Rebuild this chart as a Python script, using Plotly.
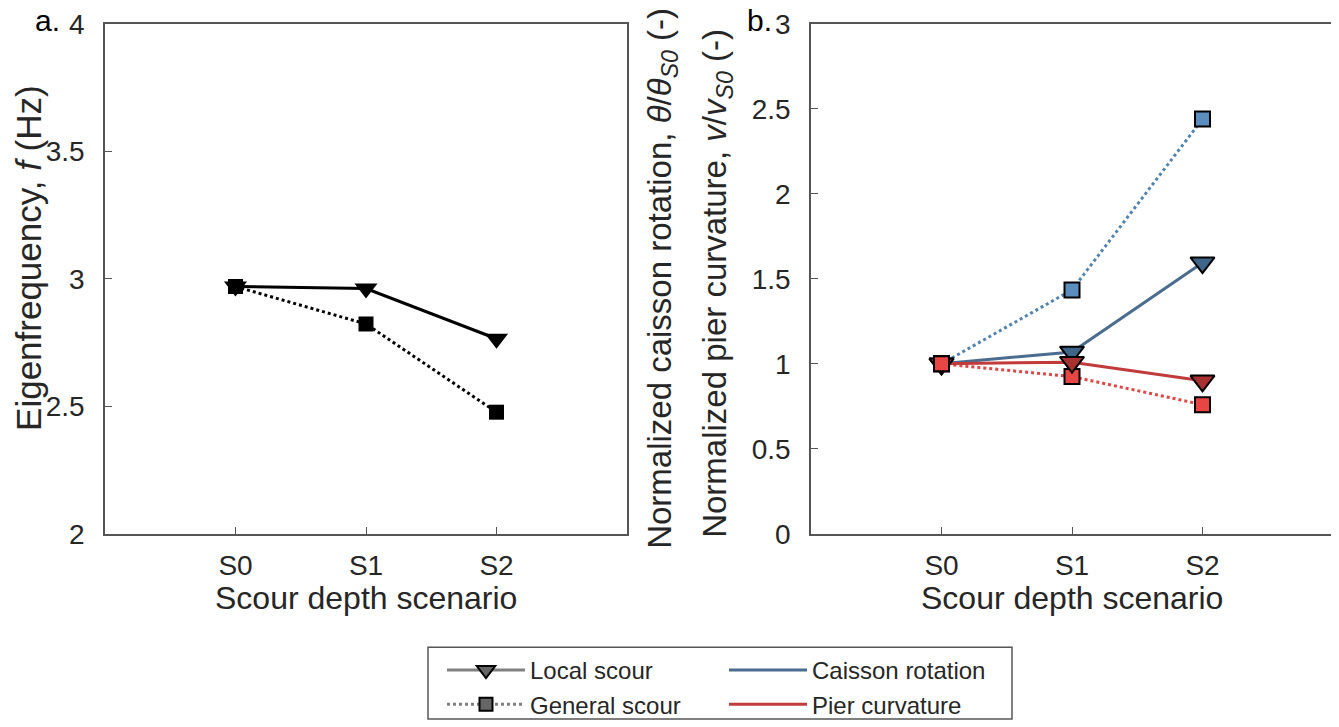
import plotly.graph_objects as go

# Page body has an 8px margin; size the figure so it fills the 1339x727 window
OFF = 8
W, H = 1339 - OFF, 727 - OFF

scenarios = ["S0", "S1", "S2"]
xpos = [0, 1, 2]

# Panel a: eigenfrequency (Hz)
freq_local = [2.97, 2.962, 2.765]
freq_general = [2.97, 2.823, 2.477]

# Panel b: normalized responses
rot_local = [1.0, 1.07, 1.595]
rot_general = [1.0, 1.435, 2.44]
curv_local = [1.0, 1.01, 0.9]
curv_general = [1.0, 0.925, 0.76]

yticks_a = [2, 2.5, 3, 3.5, 4]
yticks_b = [0, 0.5, 1, 1.5, 2, 2.5, 3]

BLUE_LINE = "#4a6d8f"
BLUE_DOT = "#5183b0"
BLUE_TRI = "#3f6689"
BLUE_SQ = "#5b8dbd"
RED_LINE = "#c23b3b"
RED_DOT = "#e04646"
RED_TRI = "#a83232"
RED_SQ = "#e84545"
GREY = "#808080"

FONT = "Liberation Sans, Arial, sans-serif"
TXT = "#262626"
TICK = 28
TITLE = 32

def px(x):
    return (x - OFF) / W

def py(y):
    return 1 - (y - OFF) / H

fig = go.Figure()

# Panel a
fig.add_trace(go.Scatter(x=xpos, y=freq_local, mode="lines+markers", xaxis="x", yaxis="y",
                         line=dict(color="black", width=3),
                         marker=dict(symbol="triangle-down", size=20, color="black"),
                         showlegend=False))
fig.add_trace(go.Scatter(x=xpos, y=freq_general, mode="lines+markers", xaxis="x", yaxis="y",
                         line=dict(color="black", width=3, dash="dot"),
                         marker=dict(symbol="square", size=15, color="black"),
                         showlegend=False))

# Panel b
mk_line = dict(color="black", width=2)
fig.add_trace(go.Scatter(x=xpos, y=rot_general, mode="lines+markers", xaxis="x2", yaxis="y2",
                         line=dict(color=BLUE_DOT, width=3, dash="dot"),
                         marker=dict(symbol="square", size=15, color=BLUE_SQ, line=mk_line),
                         showlegend=False))
fig.add_trace(go.Scatter(x=xpos, y=curv_general, mode="lines+markers", xaxis="x2", yaxis="y2",
                         line=dict(color=RED_DOT, width=3, dash="dot"),
                         marker=dict(symbol="square", size=15, color=RED_SQ, line=mk_line),
                         showlegend=False))
fig.add_trace(go.Scatter(x=xpos, y=rot_local, mode="lines+markers", xaxis="x2", yaxis="y2",
                         line=dict(color=BLUE_LINE, width=3),
                         marker=dict(symbol="triangle-down", size=21, color=BLUE_TRI, line=mk_line),
                         showlegend=False))
fig.add_trace(go.Scatter(x=xpos, y=curv_local, mode="lines+markers", xaxis="x2", yaxis="y2",
                         line=dict(color=RED_LINE, width=3),
                         marker=dict(symbol="triangle-down", size=21, color=RED_TRI, line=mk_line),
                         showlegend=False))
fig.add_trace(go.Scatter(x=xpos[:1], y=curv_general[:1], mode="markers", xaxis="x2", yaxis="y2",
                         marker=dict(symbol="square", size=15, color=RED_SQ, line=mk_line),
                         showlegend=False, hoverinfo="skip"))

# Legend entries (two columns -> two legends)
fig.add_trace(go.Scatter(x=[None], y=[None], mode="lines+markers", name="Local scour",
                         legend="legend", legendgroup="a",
                         line=dict(color=GREY, width=3),
                         marker=dict(symbol="triangle-down", size=18, color="#666666", line=mk_line)))
fig.add_trace(go.Scatter(x=[None], y=[None], mode="lines+markers", name="General scour",
                         legend="legend", legendgroup="b",
                         line=dict(color=GREY, width=3, dash="dot"),
                         marker=dict(symbol="square", size=13, color="#666666", line=mk_line)))
fig.add_trace(go.Scatter(x=[None], y=[None], mode="lines", name="Caisson rotation",
                         legend="legend2", legendgroup="c",
                         line=dict(color=BLUE_LINE, width=3)))
fig.add_trace(go.Scatter(x=[None], y=[None], mode="lines", name="Pier curvature",
                         legend="legend2", legendgroup="d",
                         line=dict(color=RED_LINE, width=3)))

axis_common = dict(showgrid=False, zeroline=False, showline=True, mirror=True, automargin=False,
                   linecolor="#555555", linewidth=1.5, ticks="inside", ticklen=7,
                   tickcolor="#555555", tickfont=dict(family=FONT, size=TICK, color=TXT))

dom_y = [py(536), py(24)]
leg_common = dict(orientation="v", xanchor="left", yanchor="top", bgcolor="rgba(0,0,0,0)",
                  borderwidth=0, font=dict(family=FONT, size=24, color=TXT),
                  itemwidth=78, tracegroupgap=4, traceorder="normal")
fig.update_layout(
    width=W, height=H,
    margin=dict(l=0, r=0, t=0, b=0, pad=0),
    paper_bgcolor="white", plot_bgcolor="white",
    font=dict(family=FONT, color=TXT),
    xaxis=dict(domain=[px(105), px(627)], range=[-1, 3], tickvals=xpos, ticktext=scenarios,
               anchor="y", ticklabelstandoff=6, **axis_common),
    yaxis=dict(domain=dom_y, range=[2, 4], tickvals=yticks_a,
               ticktext=[f"{v:g}" for v in yticks_a], anchor="x", ticklabelstandoff=13,
               **axis_common),
    xaxis2=dict(domain=[px(811), px(1333)], range=[-1, 3], tickvals=xpos, ticktext=scenarios,
                anchor="y2", ticklabelstandoff=6, **axis_common),
    yaxis2=dict(domain=dom_y, range=[0, 3], tickvals=yticks_b,
                ticktext=[f"{v:g}" for v in yticks_b], anchor="x2", ticklabelstandoff=13,
                **axis_common),
    showlegend=True,
    legend=dict(x=px(442), y=py(651), **leg_common),
    legend2=dict(x=px(724), y=py(651), **leg_common),
    shapes=[dict(type="rect", xref="paper", yref="paper",
                 x0=px(428), x1=px(1012), y0=py(722), y1=py(650),
                 line=dict(color="#555555", width=1.5), fillcolor="rgba(0,0,0,0)", layer="below")],
)

def A(text, x, y, size=TITLE, angle=0, color=TXT):
    return dict(text=text, x=px(x), y=py(y), xref="paper", yref="paper",
                xanchor="center", yanchor="middle", textangle=angle, showarrow=False,
                font=dict(size=size, family=FONT, color=color))

ann = [
    A("Scour depth scenario", 366, 600),
    A("Scour depth scenario", 1072, 600),
    A("Eigenfrequency, <i>f</i> (Hz)", 29, 259, size=35, angle=-90),
    A("Normalized caisson rotation, <i>θ</i>/<i>θ</i><sub><i>S0</i></sub> (-)", 662, 280,
      size=33, angle=-90),
    A("Normalized pier curvature, <i>v</i>/<i>v</i><sub><i>S0</i></sub> (-)", 717, 285,
      size=33, angle=-90),
    A("a.", 47, 21, size=30, color="black"),
    A("b.", 759, 21, size=30, color="black"),
]
fig.update_layout(annotations=ann)

fig.write_html("out.html")
